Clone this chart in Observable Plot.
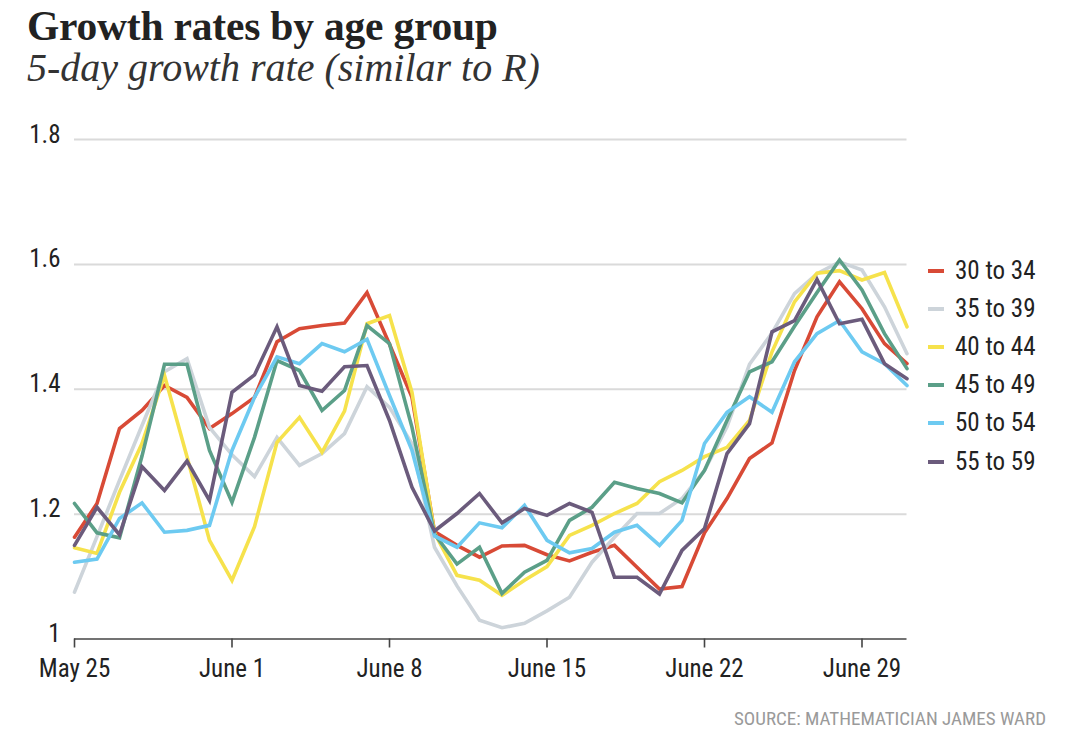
<!DOCTYPE html>
<html>
<head>
<meta charset="utf-8">
<script src="https://cdn.jsdelivr.net/npm/d3@7"></script>
<script src="https://cdn.jsdelivr.net/npm/@observablehq/plot@0.6"></script>
<style>
  html, body { margin: 0; padding: 0; background: #fff; }
  body { width: 1080px; height: 753px; position: relative; overflow: hidden; }
  .cond { font-family: "Liberation Sans Narrow", "Roboto Condensed", "DejaVu Sans Condensed", sans-serif; }
  #title { position: absolute; left: 27px; top: 6px; font-family: "Liberation Serif", serif; font-weight: bold; font-size: 41.5px; line-height: 41px; color: #222; letter-spacing: -0.2px; white-space: nowrap; }
  #subtitle { position: absolute; left: 27px; top: 48px; font-family: "Liberation Serif", serif; font-style: italic; font-size: 40px; line-height: 40px; color: #333; white-space: nowrap; }
  #chart { position: absolute; left: 0; top: 0; }
  #legend { position: absolute; left: 928px; top: 0; }
  .item { position: absolute; left: 0; height: 26px; line-height: 26px; font-size: 25px; color: #222; white-space: nowrap; }
  .sw { position: absolute; left: 0; top: 11px; width: 16px; height: 4px; }
  .lab { position: absolute; left: 27px; top: 0; }
  #source { position: absolute; right: 34px; top: 708px; font-size: 19px; line-height: 22px; color: #9a9a9a; white-space: nowrap; }
</style>
</head>
<body>
<div id="title">Growth rates by age group</div>
<div id="subtitle">5-day growth rate (similar to R)</div>
<div id="chart"></div>
<div id="legend" class="cond"></div>
<div id="source" class="cond">SOURCE: MATHEMATICIAN JAMES WARD</div>
<script>
// ---- data ----
const firstDay = "2021-05-25";
const lastDay = "2021-07-01";
const groups = ["30 to 34", "35 to 39", "40 to 44", "45 to 49", "50 to 54", "55 to 59"];
const colors = ["#d84a36", "#cdd4da", "#f6e24c", "#5b9f88", "#6dcaf1", "#6b5b7c"];

const rate30to34 = [1.163, 1.217, 1.337, 1.366, 1.406, 1.387, 1.337, 1.361, 1.387, 1.476, 1.497, 1.502, 1.506, 1.555, 1.472, 1.387, 1.172, 1.150, 1.131, 1.149, 1.150, 1.135, 1.125, 1.139, 1.150, 1.115, 1.080, 1.084, 1.170, 1.225, 1.289, 1.314, 1.430, 1.516, 1.572, 1.529, 1.473, 1.441];
const rate35to39 = [1.075, 1.164, 1.254, 1.342, 1.428, 1.449, 1.339, 1.295, 1.260, 1.323, 1.278, 1.297, 1.329, 1.404, 1.371, 1.313, 1.147, 1.085, 1.030, 1.018, 1.025, 1.045, 1.067, 1.123, 1.163, 1.201, 1.201, 1.225, 1.270, 1.340, 1.440, 1.490, 1.553, 1.585, 1.604, 1.591, 1.532, 1.457];
const rate40to44 = [1.146, 1.137, 1.235, 1.313, 1.422, 1.292, 1.158, 1.094, 1.180, 1.315, 1.355, 1.299, 1.365, 1.505, 1.518, 1.395, 1.170, 1.102, 1.094, 1.070, 1.094, 1.116, 1.166, 1.182, 1.201, 1.217, 1.252, 1.270, 1.292, 1.307, 1.350, 1.460, 1.540, 1.586, 1.590, 1.575, 1.587, 1.500];
const rate45to49 = [1.217, 1.170, 1.162, 1.293, 1.440, 1.440, 1.302, 1.219, 1.323, 1.446, 1.430, 1.366, 1.398, 1.502, 1.473, 1.339, 1.168, 1.120, 1.147, 1.073, 1.107, 1.126, 1.190, 1.211, 1.251, 1.241, 1.233, 1.218, 1.270, 1.350, 1.428, 1.444, 1.501, 1.555, 1.607, 1.559, 1.489, 1.433];
const rate50to54 = [1.123, 1.128, 1.193, 1.218, 1.171, 1.174, 1.182, 1.302, 1.387, 1.452, 1.441, 1.473, 1.460, 1.480, 1.390, 1.302, 1.165, 1.147, 1.186, 1.178, 1.214, 1.158, 1.138, 1.145, 1.171, 1.182, 1.150, 1.190, 1.313, 1.363, 1.388, 1.363, 1.444, 1.489, 1.510, 1.460, 1.441, 1.406];
const rate55to59 = [1.150, 1.211, 1.167, 1.276, 1.238, 1.285, 1.222, 1.395, 1.423, 1.500, 1.406, 1.397, 1.436, 1.438, 1.350, 1.243, 1.173, 1.201, 1.233, 1.186, 1.209, 1.198, 1.217, 1.203, 1.099, 1.099, 1.072, 1.142, 1.177, 1.297, 1.345, 1.492, 1.510, 1.576, 1.505, 1.512, 1.441, 1.417];
const seriesValues = [rate30to34, rate35to39, rate40to44, rate45to49, rate50to54, rate55to59];

const xTickDates = ["2021-05-25", "2021-06-01", "2021-06-08", "2021-06-15", "2021-06-22", "2021-06-29"];
const yTicks = [1, 1.2, 1.4, 1.6, 1.8];

// ---- build ----
const start = new Date(firstDay + "T00:00Z");
const end = new Date(lastDay + "T00:00Z");
const days = d3.utcDay.range(start, d3.utcDay.offset(end, 1));
const xTicks = xTickDates.map(s => new Date(s + "T00:00Z"));
const condFont = '"Liberation Sans Narrow", "Roboto Condensed", "DejaVu Sans Condensed", sans-serif';

const rows = [];
groups.forEach((g, k) => seriesValues[k].forEach((v, i) => rows.push({date: days[i], value: v, group: g})));

const W = 1080, H = 700;
const lineMarks = groups.map((g, k) =>
  Plot.line(rows.filter(r => r.group === g), {
    x: "date", y: "value", stroke: colors[k], strokeWidth: 3.6, strokeLinejoin: "miter", strokeMiterlimit: 4
  })
);

const chart = Plot.plot({
  width: W,
  height: H,
  marginLeft: 74,
  marginRight: W - 906.5,
  marginTop: 139,
  marginBottom: H - 638.5,
  style: {fontFamily: condFont, fontSize: "25px", color: "#222", background: "transparent", overflow: "visible"},
  x: {type: "utc", domain: [start, end], label: null},
  y: {domain: [1, 1.8], label: null},
  marks: [
    Plot.gridY(yTicks.slice(1), {stroke: "#dadada", strokeOpacity: 1, strokeWidth: 2}),
    Plot.axisY(yTicks, {tickSize: 0, tickPadding: 14, dy: -5, tickFormat: d3.format("~g"), fill: "#222", label: null}),
    Plot.ruleY([1], {stroke: "#444", strokeWidth: 1.6}),
    Plot.axisX(xTicks, {tickSize: 9, tickPadding: 11, stroke: "#444", strokeWidth: 1.6, tickFormat: d3.utcFormat("%B %-d"), fill: "#222", label: null}),
    ...lineMarks
  ]
});
document.getElementById("chart").appendChild(chart);

// ---- legend ----
const legend = document.getElementById("legend");
const legendTop = 258, legendStep = 38.1;
groups.forEach((g, k) => {
  const item = document.createElement("div");
  item.className = "item";
  item.style.top = (legendTop + k * legendStep) + "px";
  const sw = document.createElement("span");
  sw.className = "sw";
  sw.style.background = colors[k];
  const lab = document.createElement("span");
  lab.className = "lab";
  lab.textContent = g;
  item.appendChild(sw);
  item.appendChild(lab);
  legend.appendChild(item);
});
</script>
</body>
</html>
